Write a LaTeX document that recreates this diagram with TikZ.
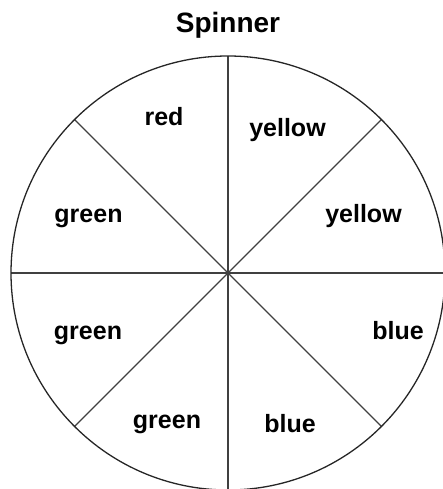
\documentclass[tikz,border=0pt]{standalone}
\usepackage{fontspec}
\setmainfont{Liberation Sans}
\usetikzlibrary{calc}
\begin{document}
\begin{tikzpicture}[x=1pt,y=1pt,
  lbl/.style={anchor=base,inner sep=0pt,font=\fontsize{25}{30}\selectfont\bfseries},
  ttl/.style={anchor=base,inner sep=0pt,font=\fontsize{28}{33}\selectfont\bfseries},
  rim/.style={draw=black!85,line width=1.3pt},
  spoke/.style={draw=black!75,line width=1.3pt}]
\useasboundingbox (0,0) rectangle (443,489);
\coordinate (c) at (228,216);
\foreach \a [count=\i] in {0,45,...,315} {
  \coordinate (p\i) at ($(c)+(\a:217)$);
}
\draw[spoke] (p1) -- (p5);
\draw[spoke] (p2) -- (p6);
\draw[spoke] (p3) -- (p7);
\draw[spoke] (p4) -- (p8);
\draw[rim] (c) circle[radius=217];
\node[ttl] (title) at (228,456) {Spinner};
\node[lbl] (l1) at (164,363) {red};
\node[lbl] (l2) at (287.5,352) {yellow};
\node[lbl] (l3) at (88.5,266) {green};
\node[lbl] (l4) at (363.5,266) {yellow};
\node[lbl] (l5) at (88,149) {green};
\node[lbl] (l6) at (398,149) {blue};
\node[lbl] (l7) at (167,60) {green};
\node[lbl] (l8) at (290,56) {blue};
\end{tikzpicture}
\end{document}
